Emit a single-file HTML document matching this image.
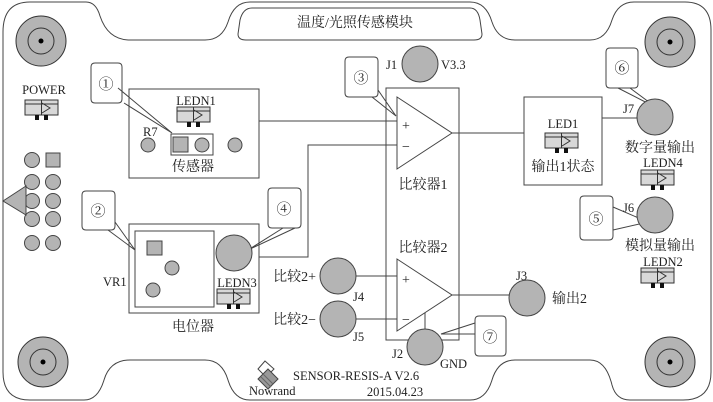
<!DOCTYPE html>
<html><head><meta charset="utf-8"><style>
html,body{margin:0;padding:0;background:#fff}
svg{display:block}
text{font-family:"Liberation Serif","Noto Serif CJK SC","Noto Sans CJK SC",serif;fill:#222}
</style></head><body>
<svg width="713" height="402" viewBox="0 0 713 402" xmlns="http://www.w3.org/2000/svg">
<defs>
<g id="led">
<rect x="0" y="0" width="33" height="15" fill="#d8d8d8" stroke="#333" stroke-width="1"/>
<line x1="0" y1="4" x2="33" y2="4" stroke="#333"/>
<line x1="16.5" y1="0" x2="16.5" y2="15" stroke="#333"/>
<polyline points="17,3 25,8 17,13" fill="none" stroke="#333"/>
<rect x="10" y="15" width="4" height="5" fill="#111"/>
<rect x="19" y="15" width="4" height="5" fill="#111"/>
</g>
<g id="hole">
<circle r="25" fill="#b4b4b4" stroke="#333"/>
<circle r="13" fill="none" stroke="#333"/>
<circle r="2.5" fill="#000"/>
</g>
</defs>
<g fill="none" stroke="#444" stroke-width="1">
<path d="M3,32 Q3,2 30,2 L86,2 Q96,2 100,16 Q108,40 130,40 L205,40 Q222,40 228,22 Q234,2 250,2 L470,2 Q486,2 492,22 Q498,40 515,40 L590,40 Q606,40 612,20 Q618,2 634,2 L685,2 Q711,2 711,30 L711,372 Q711,400 683,400 L630,400 Q616,400 612,385 Q606,360 590,360 L515,360 Q498,360 492,380 Q486,400 470,400 L250,400 Q234,400 228,380 Q222,360 205,360 L130,360 Q110,360 104,380 Q98,400 84,400 L30,400 Q3,400 3,372 Z"/>
<path d="M252,8 L470,8 Q478,8 480,20 L482,34 Q482,40 474,40 L246,40 Q238,40 238,34 L240,20 Q243,8 252,8 Z"/>
<rect x="129" y="89" width="130" height="89"/>
<rect x="171" y="134" width="42" height="21"/>
<rect x="129" y="224" width="130" height="89"/>
<rect x="135" y="231" width="79" height="76"/>
<rect x="386" y="88" width="73" height="252"/>
<polygon points="397,97 452,133 397,169"/>
<polygon points="397,259 452,295 397,331"/>
<rect x="524" y="97" width="78" height="88"/>
<polyline points="259,121 397,121"/>
<polyline points="259,257 308,257 308,145 397,145"/>
<polyline points="452,133 524,133"/>
<polyline points="602,118 637,118"/>
<polyline points="356,276 397,276"/>
<polyline points="356,319 397,319"/>
<polyline points="452,295 509,295"/>
<polyline points="425,313 425,330"/>
<path d="M95,63 H118 Q122,63 122,67 V99 Q122,103 118,103 H95 Q91,103 91,99 V67 Q91,63 95,63 Z"/>
<path d="M86,191 H111 Q115,191 115,195 V226 Q115,230 111,230 H86 Q82,230 82,226 V195 Q82,191 86,191 Z"/>
<path d="M349,57 H374 Q378,57 378,61 V93 Q378,97 374,97 H349 Q345,97 345,93 V61 Q345,57 349,57 Z"/>
<path d="M272,188 H297 Q301,188 301,192 V224 Q301,228 297,228 H272 Q268,228 268,224 V192 Q268,188 272,188 Z"/>
<path d="M584,196 H609 Q613,196 613,200 V236 Q613,240 609,240 H584 Q580,240 580,236 V200 Q580,196 584,196 Z"/>
<path d="M610,48 H634 Q638,48 638,52 V84 Q638,88 634,88 H610 Q606,88 606,84 V52 Q606,48 610,48 Z"/>
<path d="M479,316 H502 Q506,316 506,320 V352 Q506,356 502,356 H479 Q475,356 475,352 V320 Q475,316 479,316 Z"/>
<polyline points="118,88 172,133 124,103"/>
<polyline points="108,230 135,250 115,222"/>
<polyline points="372,97 396,116 378,90"/>
<polyline points="283,228 248,250 295,228"/>
<polyline points="613,207 648,222 613,230"/>
<polyline points="618,88 657,108 630,88"/>
<polyline points="475,323 441,334 475,334"/>
<polyline points="441,340 459,340 459,330"/>
</g>
<use href="#hole" x="41" y="41"/>
<use href="#hole" x="670" y="42"/>
<use href="#hole" x="43" y="362"/>
<use href="#hole" x="670" y="362"/>
<g fill="#b4b4b4" stroke="#444">
<circle cx="148" cy="145" r="7"/>
<rect x="173" y="137" width="15" height="15"/>
<circle cx="202" cy="145" r="7"/>
<circle cx="235" cy="145" r="7"/>
<rect x="147" y="241" width="15" height="14"/>
<circle cx="172" cy="268" r="7"/>
<circle cx="153" cy="290" r="7"/>
<circle cx="234" cy="253" r="18"/>
<circle cx="420" cy="64" r="18"/>
<circle cx="655" cy="117" r="18"/>
<circle cx="655" cy="215" r="18"/>
<circle cx="338" cy="276" r="18"/>
<circle cx="338" cy="319" r="18"/>
<circle cx="425" cy="347" r="18"/>
<circle cx="527" cy="298" r="18"/>
<circle cx="32" cy="160" r="7.5"/>
<rect x="46" y="153" width="14" height="14"/>
<circle cx="32" cy="182" r="7.5"/><circle cx="53" cy="182" r="7.5"/>
<circle cx="32" cy="201" r="7.5"/><circle cx="53" cy="201" r="7.5"/>
<circle cx="32" cy="219" r="7.5"/><circle cx="53" cy="219" r="7.5"/>
<circle cx="32" cy="243" r="7.5"/><circle cx="53" cy="243" r="7.5"/>
<polygon points="3,201 26,186 26,215"/>
</g>
<use href="#led" x="25" y="100"/>
<use href="#led" x="177" y="107"/>
<use href="#led" x="217" y="289"/>
<use href="#led" x="545" y="133"/>
<use href="#led" x="641" y="170"/>
<use href="#led" x="641" y="268"/>
<g stroke="#444">
<polygon points="265,361 274,369 266,377 258,369" fill="#fff"/>
<polygon points="268,369 278,379 268,389 258,379" fill="#999"/>
<line x1="263" y1="374" x2="273" y2="384" stroke="#666"/>
<line x1="261" y1="377" x2="271" y2="387" stroke="#666"/>
</g>
<g font-size="12.5">
<text x="355" y="27" text-anchor="middle" font-size="14">温度/光照传感模块</text>
<text x="44" y="94" text-anchor="middle">POWER</text>
<text x="196" y="105" text-anchor="middle">LEDN1</text>
<text x="143" y="136">R7</text>
<text x="193" y="171" text-anchor="middle" font-size="14">传感器</text>
<text x="103" y="286">VR1</text>
<text x="237" y="287" text-anchor="middle">LEDN3</text>
<text x="193" y="331" text-anchor="middle" font-size="14">电位器</text>
<text x="386" y="69">J1</text>
<text x="441" y="69">V3.3</text>
<text x="423" y="189" text-anchor="middle" font-size="14">比较器1</text>
<text x="423" y="252" text-anchor="middle" font-size="14">比较器2</text>
<text x="402" y="130" font-size="14">+</text>
<text x="402" y="151" font-size="14">−</text>
<text x="402" y="284" font-size="14">+</text>
<text x="402" y="324" font-size="14">−</text>
<text x="316" y="281" text-anchor="end" font-size="14">比较2+</text>
<text x="316" y="324" text-anchor="end" font-size="14">比较2−</text>
<text x="353" y="301">J4</text>
<text x="353" y="341">J5</text>
<text x="392" y="358">J2</text>
<text x="440" y="368">GND</text>
<text x="516" y="280">J3</text>
<text x="552" y="303" font-size="14">输出2</text>
<text x="563" y="128" text-anchor="middle">LED1</text>
<text x="563" y="171" text-anchor="middle" font-size="14">输出1状态</text>
<text x="623" y="113">J7</text>
<text x="660" y="152" text-anchor="middle" font-size="14">数字量输出</text>
<text x="663" y="167" text-anchor="middle">LEDN4</text>
<text x="623" y="212">J6</text>
<text x="660" y="250" text-anchor="middle" font-size="14">模拟量输出</text>
<text x="663" y="266" text-anchor="middle">LEDN2</text>
<text x="293" y="380">SENSOR-RESIS-A V2.6</text>
<text x="395" y="396" text-anchor="middle">2015.04.23</text>
<text x="249" y="395">Nowrand</text>
</g>
<g font-size="15" text-anchor="middle">
<text x="106" y="89">①</text>
<text x="98" y="216">②</text>
<text x="361" y="83">③</text>
<text x="284" y="214">④</text>
<text x="596" y="224">⑤</text>
<text x="622" y="73">⑥</text>
<text x="490" y="342">⑦</text>
</g>
</svg>
</body></html>
